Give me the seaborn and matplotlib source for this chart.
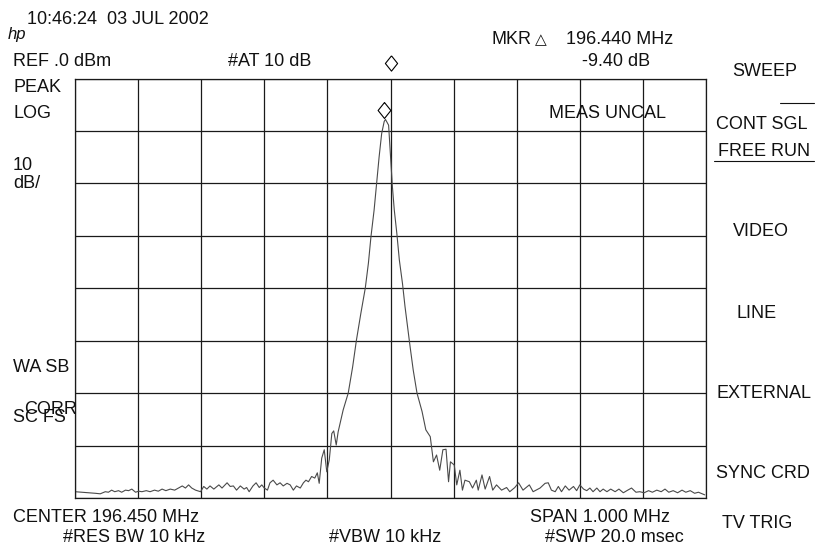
import numpy as np
import matplotlib
matplotlib.use("Agg")
import matplotlib.pyplot as plt
import matplotlib.transforms as mtransforms
import seaborn as sns

# ==============================
# Trace data
# ==============================

freq_mhz = [
    195.950, 195.961, 195.972, 195.982, 195.990, 195.998, 196.003, 196.008, 196.013, 196.019,
    196.024, 196.030, 196.035, 196.040, 196.046, 196.051, 196.056, 196.063, 196.069, 196.076,
    196.082, 196.088, 196.094, 196.101, 196.108, 196.114, 196.120, 196.125, 196.130, 196.135,
    196.141, 196.149, 196.154, 196.159, 196.164, 196.170, 196.178, 196.183, 196.191, 196.196,
    196.201, 196.206, 196.212, 196.218, 196.222, 196.226, 196.232, 196.237, 196.242, 196.246,
    196.250, 196.255, 196.259, 196.264, 196.270, 196.275, 196.280, 196.286, 196.291, 196.296,
    196.301, 196.307, 196.312, 196.316, 196.320, 196.325, 196.330, 196.334, 196.337, 196.341,
    196.345, 196.349, 196.353, 196.357, 196.360, 196.364, 196.367, 196.375, 196.383, 196.390,
    196.396, 196.403, 196.410, 196.415, 196.419, 196.424, 196.428, 196.432, 196.436, 196.440,
    196.442, 196.447, 196.451, 196.453, 196.456, 196.460, 196.464, 196.469, 196.473, 196.477,
    196.481, 196.486, 196.492, 196.500, 196.506, 196.513, 196.518, 196.523, 196.528, 196.533,
    196.538, 196.542, 196.545, 196.551, 196.555, 196.560, 196.564, 196.568, 196.575, 196.580,
    196.586, 196.589, 196.595, 196.600, 196.607, 196.612, 196.618, 196.626, 196.634, 196.639,
    196.647, 196.653, 196.660, 196.670, 196.676, 196.687, 196.695, 196.700, 196.705, 196.711,
    196.716, 196.721, 196.727, 196.733, 196.740, 196.745, 196.750, 196.756, 196.761, 196.766,
    196.771, 196.777, 196.782, 196.787, 196.793, 196.799, 196.806, 196.812, 196.819, 196.826,
    196.832, 196.839, 196.845, 196.852, 196.859, 196.865, 196.872, 196.879, 196.885, 196.891,
    196.898, 196.905, 196.912, 196.918, 196.925, 196.932, 196.938, 196.944, 196.948,
]
level_db = [
    -78.8, -78.9, -79.0, -79.1, -79.2, -78.8, -78.9, -78.5, -78.8, -78.6,
    -78.9, -78.5, -78.6, -78.3, -78.9, -78.7, -78.8, -78.6, -78.8, -78.5,
    -78.7, -78.3, -78.6, -78.3, -78.5, -78.1, -77.7, -78.1, -77.5, -78.1,
    -78.5, -78.8, -77.8, -78.3, -77.7, -78.3, -77.5, -78.1, -77.1, -77.8,
    -77.7, -78.5, -77.7, -78.3, -78.0, -78.8, -77.7, -77.1, -78.0, -77.5,
    -78.1, -78.5, -77.1, -76.6, -77.5, -77.1, -77.7, -77.2, -77.5, -78.5,
    -77.7, -78.1, -77.1, -76.6, -76.9, -75.9, -76.2, -75.2, -77.2, -72.4,
    -70.8, -75.0, -72.7, -67.7, -67.2, -69.9, -67.4, -63.2, -60.0, -55.0,
    -49.9, -44.8, -40.0, -35.2, -30.2, -25.1, -20.0, -14.9, -10.5, -8.2,
    -7.8, -8.9, -16.8, -20.6, -25.1, -29.5, -34.6, -39.1, -43.5, -47.3,
    -51.1, -55.6, -60.0, -63.5, -67.0, -68.3, -73.1, -71.8, -74.7, -70.8,
    -70.7, -76.9, -73.1, -73.7, -77.5, -74.7, -78.5, -76.6, -76.9, -78.1,
    -76.6, -78.5, -75.6, -78.3, -75.9, -78.5, -77.5, -78.5, -78.0, -78.8,
    -78.0, -77.1, -78.5, -77.5, -78.8, -78.1, -77.2, -77.1, -78.5, -78.8,
    -77.8, -78.8, -77.7, -78.5, -77.8, -78.6, -77.5, -78.3, -78.6, -78.1,
    -78.8, -78.1, -78.8, -78.3, -78.8, -78.3, -78.8, -78.3, -79.0, -78.5,
    -78.1, -78.9, -78.8, -79.0, -78.6, -78.9, -78.5, -78.8, -78.3, -78.9,
    -78.6, -79.0, -78.5, -78.9, -78.6, -79.1, -78.9, -79.2, -79.4,
]

center_mhz = 196.450
span_mhz = 1.000
ref_db = 0.0
db_per_div = 10
marker_mhz = 196.440
marker_db = -7.9

# ==============================
# Figure
# ==============================

sns.set_style("white")
plt.rcParams['font.family'] = ['Liberation Sans', 'DejaVu Sans']

W, H = 815, 551
fig = plt.figure(figsize=(W / 100, H / 100), dpi=100)
fig.patch.set_facecolor("white")
ax = fig.add_axes([75 / W, 1 - 498 / H, (706 - 75) / W, (498 - 78.5) / H])

x_lo, x_hi = center_mhz - span_mhz / 2, center_mhz + span_mhz / 2
y_lo, y_hi = ref_db - 8 * db_per_div, ref_db
ax.set_xlim(x_lo, x_hi)
ax.set_ylim(y_lo, y_hi)
ax.set_xticks(np.linspace(x_lo, x_hi, 11))
ax.set_yticks(np.arange(y_lo, y_hi + 1, db_per_div))
ax.grid(True, color="#1a1a1a", linewidth=0.9)
ax.tick_params(length=0, labelbottom=False, labelleft=False)
for sp in ax.spines.values():
    sp.set_color("#1a1a1a")
    sp.set_linewidth(0.9)

sns.lineplot(x=freq_mhz, y=level_db, ax=ax, sort=False, estimator=None,
             color="#4a4a4a", linewidth=0.8)

# diamond markers
diamond = [(0, 1), (0.8, 0), (0, -1), (-0.8, 0), (0, 1)]
up = mtransforms.offset_copy(ax.transData, fig=fig, y=7.5, units="points")
ax.plot([marker_mhz], [marker_db], marker=diamond, markersize=11.5,
        markerfacecolor="white", markeredgecolor="black", markeredgewidth=0.8,
        transform=up, zorder=5)
top = mtransforms.blended_transform_factory(ax.transData, ax.transAxes)
ax.plot([center_mhz], [1.038], marker=diamond, markersize=11,
        markerfacecolor="white", markeredgecolor="black", markeredgewidth=0.8,
        transform=top, clip_on=False, zorder=5)


def put(x, y, s, **kw):
    opts = dict(fontsize=13, va="center", ha="left", color="#111111")
    opts.update(kw)
    fig.text(x / W, 1 - y / H, s, **opts)


# header
put(27, 20, "10:46:24  03 JUL 2002")
put(8, 34, "hp", fontsize=12, fontstyle="italic")
put(13, 62, "REF .0 dBm")
put(228, 62, "#AT 10 dB")
put(492, 40, "MKR")
put(535, 40, "\u25B3", family=["DejaVu Sans"], fontsize=11)
put(566, 40, "196.440 MHz")
put(582, 61, "-9.40 dB")
put(549, 114, "MEAS UNCAL")

# left annotations
put(13, 88, "PEAK")
put(13, 114, "LOG")
put(13, 166, "10")
put(13, 184, "dB/")
put(13, 368, "WA SB")
put(13, 418, "SC FS")
put(24, 409, "CORR")

# bottom
put(13, 518, "CENTER 196.450 MHz")
put(63, 538, "#RES BW 10 kHz")
put(329, 538, "#VBW 10 kHz")
put(530, 518, "SPAN 1.000 MHz")
put(545, 538, "#SWP 20.0 msec")

# softkey menu
put(732, 72, "SWEEP")
put(716, 124, "CONT SGL")
put(718, 151, "FREE RUN")
put(733, 232, "VIDEO")
put(737, 314, "LINE")
put(716, 393, "EXTERNAL")
put(716, 474, "SYNC CRD")
put(722, 524, "TV TRIG")
fig.add_artist(plt.Line2D([780 / W, 814 / W], [1 - 102.5 / H, 1 - 102.5 / H],
                          color="#111111", linewidth=0.8))
fig.add_artist(plt.Line2D([714 / W, 814 / W], [1 - 161 / H, 1 - 161 / H],
                          color="#111111", linewidth=0.8))

fig.savefig("out.png", dpi=100)
